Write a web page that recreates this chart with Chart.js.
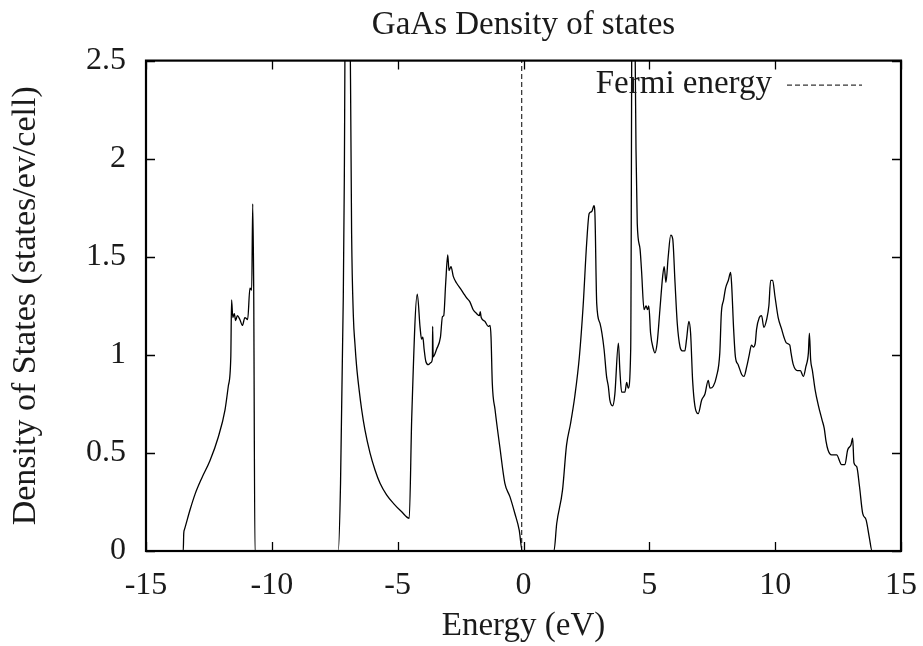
<!DOCTYPE html>
<html>
<head>
<meta charset="utf-8">
<script src="https://cdn.jsdelivr.net/npm/chart.js@4/dist/chart.umd.min.js"></script>
<style>
html,body{margin:0;padding:0;background:#fff;}
#wrap{width:923px;height:646px;}
</style>
</head>
<body>
<div id="wrap"><canvas id="c" width="923" height="646"></canvas></div>
<script>
// ---- data ----
const energy = [
  -15, -13.52, -13.50, -13.47, -13.25, -13.05, -12.79, -12.46, -12.13, -11.86, -11.73, -11.63, -11.60, -11.55,
  -11.49, -11.44, -11.37, -11.27, -11.17, -11.07, -10.96, -10.87, -10.80, -10.76, -10.72, -10.67,
  -7.36, -7.27, -7.16, -7.12, -7.05, -6.93, -6.83, -6.76, -6.70, -6.63, -6.53, -6.43, -6.30, -6.10,
  -5.90, -5.70, -5.44, -5.17, -4.84, -4.54,
  -4.44, -4.22, -4.11, -4.05, -4.00, -3.95, -3.88, -3.78, -3.68, -3.62, -3.61, -3.59, -3.45, -3.30,
  -3.22, -3.17, -3.09, -3.01, -2.96, -2.88, -2.79, -2.66, -2.52, -2.39, -2.26, -2.13, -2.00, -1.86,
  -1.75, -1.72, -1.68, -1.53, -1.40, -1.33, -1.29, -1.24, -1.13, -0.94, -0.74, -0.54, -0.34, -0.17, -0.05,
  1.21, 1.32, 1.55, 1.71, 1.87, 2.04, 2.22, 2.37, 2.51, 2.61, 2.71, 2.80, 2.84, 2.91, 3.04, 3.20,
  3.30, 3.37, 3.43, 3.54, 3.63, 3.77, 3.83, 3.90, 4.03, 4.10, 4.16, 4.26, 4.33, 4.39, 4.47, 4.52,
  4.63, 4.69, 4.79, 4.87, 4.93, 4.98, 5.05, 5.16, 5.22, 5.31, 5.42, 5.53, 5.59, 5.66, 5.75, 5.85,
  5.93, 6.02, 6.11, 6.22, 6.31, 6.41, 6.48, 6.57, 6.64, 6.72, 6.81, 6.94, 7.08, 7.21, 7.34, 7.41,
  7.54, 7.67, 7.80, 7.86, 7.95, 8.03, 8.14, 8.23, 8.27, 8.35, 8.42, 8.53, 8.67, 8.76, 8.87, 8.97,
  9.06, 9.13, 9.21, 9.26, 9.37, 9.46, 9.55, 9.66, 9.75, 9.82, 9.90, 9.99, 10.12, 10.26, 10.35, 10.45,
  10.58, 10.63, 10.72, 10.88, 11.00, 11.12, 11.22, 11.32, 11.36, 11.41, 11.48, 11.59, 11.72, 11.86,
  11.95, 12.02, 12.10, 12.24, 12.44, 12.64, 12.77, 12.88, 13.01, 13.08, 13.13, 13.24, 13.35, 13.48,
  13.61, 13.74, 13.85, 15
];
const dos = [
  0, 0, 0.09, 0.11, 0.21, 0.29, 0.37, 0.46, 0.58, 0.72, 0.84, 0.99, 1.28, 1.19,
  1.21, 1.175, 1.20, 1.18, 1.15, 1.19, 1.18, 1.34, 1.33, 1.77, 1.33, 0,
  0, 0.345, 1.30, 1.89, 3.5, 3.3, 1.62, 1.195, 1.06, 0.94, 0.82, 0.72, 0.617, 0.50,
  0.413, 0.345, 0.286, 0.243, 0.20, 0.167,
  0.685, 1.31, 1.14, 1.08, 1.09, 1.03, 0.966, 0.95, 0.96, 0.98, 1.145, 0.99, 1.03, 1.09,
  1.195, 1.20, 1.37, 1.51, 1.43, 1.45, 1.40, 1.366, 1.34, 1.315, 1.29, 1.27, 1.23, 1.21,
  1.20, 1.22, 1.19, 1.17, 1.145, 1.15, 1.09, 0.855, 0.72, 0.53, 0.345, 0.277, 0.19, 0.107, 0,
  0, 0.14, 0.31, 0.54, 0.65, 0.79, 0.99, 1.25, 1.57, 1.72, 1.73, 1.76, 1.71, 1.26, 1.16, 1.03,
  0.89, 0.84, 0.77, 0.74, 0.80, 1.06, 0.92, 0.81, 0.81, 0.86, 0.83, 1.03, 3.5, 3.2, 2.05, 1.67,
  1.54, 1.43, 1.23, 1.25, 1.23, 1.25, 1.11, 1.03, 1.01, 1.06, 1.23, 1.40, 1.45, 1.37, 1.50, 1.61,
  1.59, 1.37, 1.16, 1.04, 1.02, 1.02, 1.08, 1.17, 1.11, 0.87, 0.74, 0.70, 0.77, 0.80, 0.87, 0.83,
  0.84, 0.89, 1.01, 1.21, 1.28, 1.34, 1.38, 1.42, 1.36, 1.13, 0.99, 0.95, 0.90, 0.89, 0.94, 1.00,
  1.05, 1.04, 1.06, 1.13, 1.19, 1.20, 1.14, 1.18, 1.25, 1.38, 1.38, 1.30, 1.19, 1.13, 1.09, 1.06,
  1.05, 1.01, 0.95, 0.92, 0.92, 0.89, 0.94, 1.01, 1.11, 0.975, 0.92, 0.82, 0.74, 0.67,
  0.625, 0.56, 0.515, 0.49, 0.49, 0.44, 0.44, 0.515, 0.54, 0.575, 0.45, 0.43, 0.33, 0.19,
  0.16, 0.07, 0, 0
];
const fermiEnergy = -0.07;
const fermiRange = [0, 2.5];
const xTickValues = [-15, -10, -5, 0, 5, 10, 15];
const yTickValues = [0, 0.5, 1, 1.5, 2, 2.5];

const FONT = '"Liberation Serif", "Times New Roman", serif';
const TXT = '#1a1a1a';

const dosPoints = energy.map((e, i) => ({x: e, y: dos[i]}));
const fermiPoints = fermiRange.map(v => ({x: fermiEnergy, y: v}));

const framePlugin = {
  id: 'frame',
  afterDatasetsDraw(chart) {
    const {ctx, chartArea: a, scales: {x, y}} = chart;
    ctx.save();
    ctx.strokeStyle = '#000';
    ctx.lineWidth = 1.3;
    const tl = 9;
    ctx.beginPath();
    xTickValues.forEach(v => {
      const px = Math.round(x.getPixelForValue(v)) + 0.5;
      ctx.moveTo(px, a.bottom); ctx.lineTo(px, a.bottom - tl);
      ctx.moveTo(px, a.top); ctx.lineTo(px, a.top + tl);
    });
    yTickValues.forEach(v => {
      const py = Math.round(y.getPixelForValue(v)) + 0.5;
      ctx.moveTo(a.left, py); ctx.lineTo(a.left + tl, py);
      ctx.moveTo(a.right, py); ctx.lineTo(a.right - tl, py);
    });
    ctx.stroke();
    ctx.lineWidth = 2.2;
    ctx.strokeRect(a.left, a.top, a.right - a.left, a.bottom - a.top);
    // key
    const ky = a.top + 24;
    const lx1 = a.right - 114, lx2 = a.right - 39;
    ctx.fillStyle = TXT;
    ctx.font = '33px ' + FONT;
    ctx.textAlign = 'right';
    ctx.textBaseline = 'middle';
    ctx.fillText('Fermi energy', lx1 - 15, ky);
    ctx.strokeStyle = '#000';
    ctx.lineWidth = 1;
    ctx.setLineDash([5, 3]);
    ctx.beginPath();
    ctx.moveTo(lx1, ky + 0.5); ctx.lineTo(lx2, ky + 0.5);
    ctx.stroke();
    ctx.restore();
  }
};

new Chart(document.getElementById('c'), {
  type: 'scatter',
  data: {
    datasets: [
      {
        label: 'DOS',
        data: dosPoints,
        showLine: true,
        borderColor: '#000',
        borderWidth: 1.3,
        pointRadius: 0,
        cubicInterpolationMode: 'monotone'
      },
      {
        label: 'Fermi energy',
        data: fermiPoints,
        showLine: true,
        borderColor: '#000',
        borderWidth: 1,
        borderDash: [5, 3],
        pointRadius: 0
      }
    ]
  },
  options: {
    responsive: false,
    animation: false,
    devicePixelRatio: 1,
    layout: {padding: {top: 0, right: 22, bottom: 0, left: 0}},
    plugins: {
      legend: {display: false},
      tooltip: {enabled: false},
      title: {
        display: true,
        fullSize: false,
        text: 'GaAs Density of states',
        color: TXT,
        font: {family: FONT, size: 33, weight: 'normal', lineHeight: 1.2},
        padding: {top: 6, bottom: 15}
      }
    },
    scales: {
      x: {
        type: 'linear',
        min: -15, max: 15,
        afterBuildTicks: s => { s.ticks = xTickValues.map(v => ({value: v})); },
        afterFit: s => { s.height = 95; s.paddingLeft = 0; s.paddingRight = 0; },
        grid: {display: false, drawTicks: false},
        border: {display: false},
        ticks: {
          color: TXT, padding: 15,
          font: {family: FONT, size: 32},
          callback: v => String(v)
        },
        title: {
          display: true, text: 'Energy (eV)', color: TXT,
          font: {family: FONT, size: 33}, padding: {top: 0, bottom: 0}
        }
      },
      y: {
        type: 'linear',
        min: 0, max: 2.5,
        afterBuildTicks: s => { s.ticks = yTickValues.map(v => ({value: v})); },
        afterFit: s => { s.width = 146; s.paddingTop = 0; s.paddingBottom = 0; },
        grid: {display: false, drawTicks: false},
        border: {display: false},
        ticks: {
          color: TXT, padding: 20,
          font: {family: FONT, size: 32},
          callback: v => String(v)
        },
        title: {
          display: true, text: 'Density of States (states/ev/cell)', color: TXT,
          font: {family: FONT, size: 34}, padding: {top: 6, bottom: 0}
        }
      }
    }
  },
  plugins: [framePlugin]
});
</script>
</body>
</html>
